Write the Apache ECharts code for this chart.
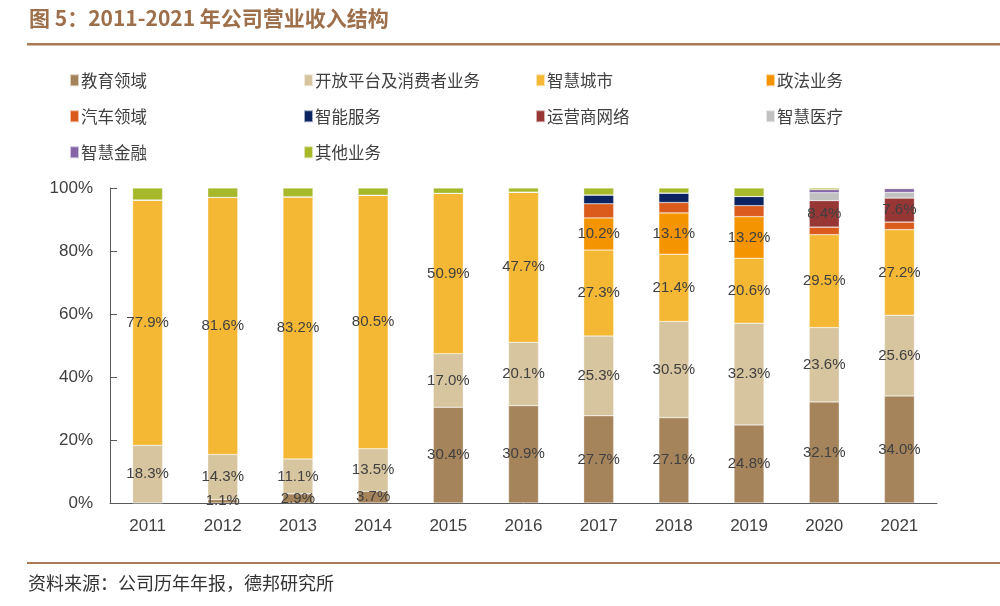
<!DOCTYPE html>
<html><head><meta charset="utf-8">
<script src="https://cdn.jsdelivr.net/npm/echarts@6/dist/echarts.min.js"></script>
<style>html,body{margin:0;padding:0;background:#fff}#c{width:1000px;height:606px}</style>
</head><body><div id="c"></div>
<script>
const years = ['2011','2012','2013','2014','2015','2016','2017','2018','2019','2020','2021'];
const seriesNames = ['教育领域','开放平台及消费者业务','智慧城市','政法业务','汽车领域','智能服务','运营商网络','智慧医疗','智慧金融','其他业务'];
const colors = ['#a6845b','#d6c59e','#f5b835','#f39400','#da5b1c','#0b2361','#963735','#c1c1c1','#8466a6','#a7b92b'];
const edu      = [0, 1.1, 2.9, 3.7, 30.4, 30.9, 27.7, 27.1, 24.8, 32.1, 34.0];
const openPlat = [18.3, 14.3, 11.1, 13.5, 17.0, 20.1, 25.3, 30.5, 32.3, 23.6, 25.6];
const city     = [77.9, 81.6, 83.2, 80.5, 50.9, 47.7, 27.3, 21.4, 20.6, 29.5, 27.2];
const law      = [0, 0, 0, 0, 0, 0, 10.2, 13.1, 13.2, 0, 0];
const auto     = [0, 0, 0, 0, 0, 0, 4.5, 3.3, 3.5, 2.4, 2.4];
const service  = [0, 0, 0, 0, 0, 0, 2.8, 3.0, 2.9, 0, 0];
const operator = [0, 0, 0, 0, 0, 0, 0, 0, 0, 8.4, 7.6];
const medical  = [0, 0, 0, 0, 0, 0, 0, 0, 0, 2.5, 1.8];
const finance  = [0, 0, 0, 0, 0, 0, 0, 0, 0, 1.0, 1.2];
const other    = [3.8, 3.0, 2.8, 2.3, 1.7, 1.3, 2.2, 1.6, 2.7, 0.5, 0.2];
const yTicks = ['0%','20%','40%','60%','80%','100%'];
const values = [edu, openPlat, city, law, auto, service, operator, medical, finance, other];
const labeled = [true, true, true, true, false, false, true, false, false, false];

const chart = echarts.init(document.getElementById('c'), null, {renderer:'canvas'});
const font = '"Liberation Sans", Arial, sans-serif';
const cjk = '"Noto Sans CJK SC", sans-serif';

const colX = [64, 298, 530, 760];
const rowY = [67, 103, 139];
const legends = seriesNames.map((n,i)=>({
  data:[n], left: colX[i%4], top: rowY[Math.floor(i/4)], itemWidth: 9, itemHeight: 12,
  icon:'rect', itemGap: 4, textStyle:{fontSize:16.5, color:'#404040', fontFamily:cjk, padding:[0,0,0,-3]},
  selectedMode:false
}));

const series = seriesNames.map((n,i)=>({
  name:n, type:'bar', stack:'total', barWidth:30,
  itemStyle:{color:colors[i], borderColor:'rgba(255,255,255,0.6)', borderWidth:0.5},
  data: values[i].map(v=>({value:v})),
  label:{show:labeled[i], position:'inside', color:'#404040', fontSize:15, fontFamily:font,
    formatter: p => p.value > 0 ? p.value.toFixed(1) + '%' : ''}
}));

chart.setOption({
  animation:false,
  backgroundColor:'#fff',
  legend: legends,
  grid:{left:110, right:63, top:188, bottom:103, containLabel:false},
  xAxis:{type:'category', data:years,
    axisLine:{lineStyle:{color:'#595959', width:1}},
    axisTick:{inside:true, length:5, lineStyle:{color:'#595959'}},
    axisLabel:{color:'#404040', fontSize:17, fontFamily:font, margin:15}
  },
  yAxis:{type:'value', min:0, max:100, interval:20,
    axisLine:{show:true, lineStyle:{color:'#595959', width:1}},
    axisTick:{show:true, inside:true, length:7, lineStyle:{color:'#595959'}},
    splitLine:{show:false},
    axisLabel:{color:'#404040', fontSize:17, fontFamily:font, margin:17,
      formatter: v => yTicks[Math.round(v/20)]}
  },
  series: series,
  graphic:[
    {type:'text', left:29, top:8, style:{text:'图 5：2011-2021 年公司营业收入结构', fill:'#9d6f4a', font:'bold 21px '+cjk}},
    {type:'rect', shape:{x:27, y:43, width:973, height:2.5}, style:{fill:'#a67a55'}},
    {type:'rect', shape:{x:27, y:562, width:973, height:2}, style:{fill:'#a67a55'}},
    {type:'text', left:28, top:574, style:{text:'资料来源：公司历年年报，德邦研究所', fill:'#333', font:'18px '+cjk}}
  ]
});
</script></body></html>
